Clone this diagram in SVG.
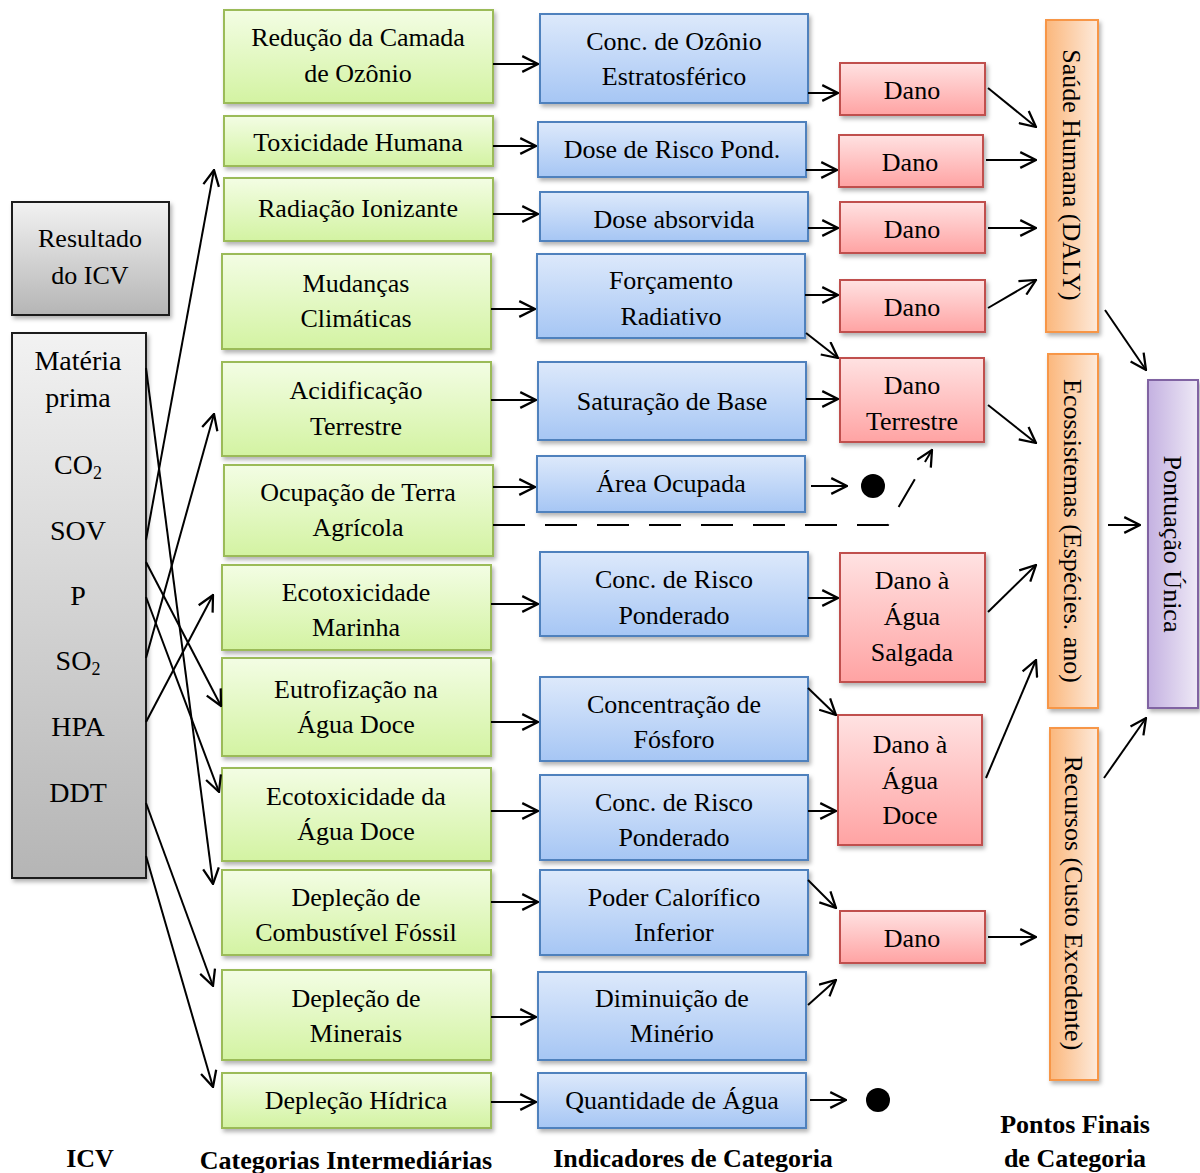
<svg xmlns="http://www.w3.org/2000/svg" width="1200" height="1173" viewBox="0 0 1200 1173">
  <defs>
    <linearGradient id="gGreen" x1="0" y1="0" x2="0" y2="1">
      <stop offset="0" stop-color="#f3fde4"/>
      <stop offset="1" stop-color="#d3f3a2"/>
    </linearGradient>
    <linearGradient id="gBlue" x1="0" y1="0" x2="0" y2="1">
      <stop offset="0" stop-color="#dde9fb"/>
      <stop offset="1" stop-color="#a6c6f4"/>
    </linearGradient>
    <linearGradient id="gRed" x1="0" y1="0" x2="0" y2="1">
      <stop offset="0" stop-color="#ffe2e2"/>
      <stop offset="1" stop-color="#ffa3a3"/>
    </linearGradient>
    <linearGradient id="gOrange" x1="0" y1="0" x2="1" y2="0">
      <stop offset="0" stop-color="#fbb77c"/>
      <stop offset="1" stop-color="#fdeadb"/>
    </linearGradient>
    <linearGradient id="gPurple" x1="0" y1="0" x2="1" y2="0">
      <stop offset="0" stop-color="#c4b1e1"/>
      <stop offset="1" stop-color="#eee9f6"/>
    </linearGradient>
    <linearGradient id="gGray" x1="0" y1="0" x2="0" y2="1">
      <stop offset="0" stop-color="#f2f2f2"/>
      <stop offset="1" stop-color="#b5b5b5"/>
    </linearGradient>
    <filter id="shadow" x="-20%" y="-20%" width="140%" height="140%">
      <feDropShadow dx="2" dy="3" stdDeviation="2" flood-color="#000" flood-opacity="0.3"/>
    </filter>
    <marker id="arrow" markerUnits="userSpaceOnUse" markerWidth="18" markerHeight="18" viewBox="0 0 16 16" refX="15" refY="8" orient="auto">
      <path d="M1,1 L15,8 L1,15" fill="none" stroke="#000" stroke-width="2"/>
    </marker>
  </defs>
  <style>
    text { font-family: "Liberation Serif", "Times New Roman", serif; font-size: 26px; fill: #000; text-anchor: middle; }
    .big { font-size: 28px; }
    .lbl { font-weight: bold; font-size: 26px; }
    .green { fill: url(#gGreen); stroke: #9bbb59; stroke-width: 2; filter: url(#shadow); }
    .blue { fill: url(#gBlue); stroke: #4f81bd; stroke-width: 2; filter: url(#shadow); }
    .red { fill: url(#gRed); stroke: #c0504d; stroke-width: 2; filter: url(#shadow); }
    .orange { fill: url(#gOrange); stroke: #f79646; stroke-width: 2; filter: url(#shadow); }
    .purple { fill: url(#gPurple); stroke: #8064a2; stroke-width: 2; filter: url(#shadow); }
    .gray { fill: url(#gGray); stroke: #1a1a1a; stroke-width: 2; filter: url(#shadow); }
    .conn line, .conn path { stroke: #000; stroke-width: 2; fill: none; marker-end: url(#arrow); }
    .conn .dash { stroke-dasharray: 32 20; }
  </style>

  <rect width="1200" height="1173" fill="#fff"/>

  <!-- Inventory column -->
  <g id="resultado-icv">
    <rect class="gray" x="12" y="202" width="157" height="113"/>
    <text x="90" y="247">Resultado</text>
    <text x="90" y="284">do ICV</text>
  </g>
  <g id="inventario">
    <rect class="gray" x="12" y="333" width="134" height="545"/>
    <text class="big" x="78" y="370">Matéria</text>
    <text class="big" x="78" y="407">prima</text>
    <text class="big" x="78" y="474">CO<tspan font-size="18" dy="5">2</tspan></text>
    <text class="big" x="78" y="540">SOV</text>
    <text class="big" x="78" y="605">P</text>
    <text class="big" x="78" y="670">SO<tspan font-size="18" dy="5">2</tspan></text>
    <text class="big" x="78" y="736">HPA</text>
    <text class="big" x="78" y="802">DDT</text>
  </g>

  <!-- Midpoint categories -->
  <g id="cat-ozonio"><rect class="green" x="224" y="10" width="269" height="93"/><text x="358" y="46">Redução da Camada</text><text x="358" y="82">de Ozônio</text></g>
  <g id="cat-toxicidade"><rect class="green" x="224" y="116" width="269" height="50"/><text x="358" y="151">Toxicidade Humana</text></g>
  <g id="cat-radiacao"><rect class="green" x="224" y="178" width="269" height="63"/><text x="358" y="217">Radiação Ionizante</text></g>
  <g id="cat-clima"><rect class="green" x="222" y="254" width="269" height="95"/><text x="356" y="292">Mudanças</text><text x="356" y="327">Climáticas</text></g>
  <g id="cat-acidificacao"><rect class="green" x="222" y="362" width="269" height="94"/><text x="356" y="399">Acidificação</text><text x="356" y="435">Terrestre</text></g>
  <g id="cat-ocupacao"><rect class="green" x="224" y="465" width="269" height="91"/><text x="358" y="501">Ocupação de Terra</text><text x="358" y="536">Agrícola</text></g>
  <g id="cat-ecotox-marinha"><rect class="green" x="222" y="565" width="269" height="85"/><text x="356" y="601">Ecotoxicidade</text><text x="356" y="636">Marinha</text></g>
  <g id="cat-eutrofizacao"><rect class="green" x="222" y="658" width="269" height="98"/><text x="356" y="698">Eutrofização na</text><text x="356" y="733">Água Doce</text></g>
  <g id="cat-ecotox-doce"><rect class="green" x="222" y="768" width="269" height="93"/><text x="356" y="805">Ecotoxicidade da</text><text x="356" y="840">Água Doce</text></g>
  <g id="cat-fossil"><rect class="green" x="222" y="870" width="269" height="85"/><text x="356" y="906">Depleção de</text><text x="356" y="941">Combustível Fóssil</text></g>
  <g id="cat-minerais"><rect class="green" x="222" y="970" width="269" height="90"/><text x="356" y="1007">Depleção de</text><text x="356" y="1042">Minerais</text></g>
  <g id="cat-hidrica"><rect class="green" x="222" y="1073" width="269" height="55"/><text x="356" y="1109">Depleção Hídrica</text></g>

  <!-- Category indicators -->
  <g id="ind-ozonio"><rect class="blue" x="540" y="14" width="268" height="89"/><text x="674" y="50">Conc. de Ozônio</text><text x="674" y="85">Estratosférico</text></g>
  <g id="ind-dose-risco"><rect class="blue" x="538" y="122" width="268" height="55"/><text x="672" y="158">Dose de Risco Pond.</text></g>
  <g id="ind-dose-absorvida"><rect class="blue" x="540" y="192" width="268" height="49"/><text x="674" y="228">Dose absorvida</text></g>
  <g id="ind-forcamento"><rect class="blue" x="537" y="254" width="268" height="84"/><text x="671" y="289">Forçamento</text><text x="671" y="325">Radiativo</text></g>
  <g id="ind-saturacao"><rect class="blue" x="538" y="362" width="268" height="78"/><text x="672" y="410">Saturação de Base</text></g>
  <g id="ind-area"><rect class="blue" x="537" y="456" width="268" height="56"/><text x="671" y="492">Área Ocupada</text></g>
  <g id="ind-risco-marinho"><rect class="blue" x="540" y="552" width="268" height="84"/><text x="674" y="588">Conc. de Risco</text><text x="674" y="624">Ponderado</text></g>
  <g id="ind-fosforo"><rect class="blue" x="540" y="677" width="268" height="84"/><text x="674" y="713">Concentração de</text><text x="674" y="748">Fósforo</text></g>
  <g id="ind-risco-doce"><rect class="blue" x="540" y="775" width="268" height="85"/><text x="674" y="811">Conc. de Risco</text><text x="674" y="846">Ponderado</text></g>
  <g id="ind-calorifico"><rect class="blue" x="540" y="870" width="268" height="85"/><text x="674" y="906">Poder Calorífico</text><text x="674" y="941">Inferior</text></g>
  <g id="ind-minerio"><rect class="blue" x="538" y="972" width="268" height="88"/><text x="672" y="1007">Diminuição de</text><text x="672" y="1042">Minério</text></g>
  <g id="ind-agua"><rect class="blue" x="538" y="1073" width="268" height="55"/><text x="672" y="1109">Quantidade de Água</text></g>

  <!-- Damage nodes -->
  <g id="dano-1"><rect class="red" x="840" y="63" width="145" height="52"/><text x="912" y="99">Dano</text></g>
  <g id="dano-2"><rect class="red" x="839" y="135" width="144" height="52"/><text x="910" y="171">Dano</text></g>
  <g id="dano-3"><rect class="red" x="840" y="202" width="145" height="51"/><text x="912" y="238">Dano</text></g>
  <g id="dano-4"><rect class="red" x="840" y="280" width="145" height="52"/><text x="912" y="316">Dano</text></g>
  <g id="dano-terrestre"><rect class="red" x="840" y="358" width="144" height="84"/><text x="912" y="394">Dano</text><text x="912" y="430">Terrestre</text></g>
  <g id="dano-salgada"><rect class="red" x="840" y="553" width="145" height="129"/><text x="912" y="589">Dano à</text><text x="912" y="625">Água</text><text x="912" y="661">Salgada</text></g>
  <g id="dano-doce"><rect class="red" x="838" y="715" width="144" height="130"/><text x="910" y="753">Dano à</text><text x="910" y="789">Água</text><text x="910" y="824">Doce</text></g>
  <g id="dano-recursos"><rect class="red" x="840" y="911" width="145" height="52"/><text x="912" y="947">Dano</text></g>

  <!-- Endpoints -->
  <g id="saude-humana"><rect class="orange" x="1046" y="20" width="52" height="312"/><text transform="translate(1072,175) rotate(90)" x="0" y="9">Saúde Humana (DALY)</text></g>
  <g id="ecossistemas"><rect class="orange" x="1048" y="354" width="50" height="354"/><text transform="translate(1073,531) rotate(90)" x="0" y="9">Ecossistemas (Espécies. ano)</text></g>
  <g id="recursos"><rect class="orange" x="1050" y="728" width="48" height="352"/><text transform="translate(1074,903) rotate(90)" x="0" y="9">Recursos (Custo Excedente)</text></g>
  <g id="pontuacao-unica"><rect class="purple" x="1148" y="380" width="50" height="328"/><text transform="translate(1173,544) rotate(90)" x="0" y="9">Pontuação Única</text></g>

  <!-- Terminal markers -->
  <g id="fim-area"><circle cx="873" cy="486" r="12" fill="#000"/></g>
  <g id="fim-agua"><circle cx="878" cy="1100" r="12" fill="#000"/></g>

  <!-- Connectors -->
  <g id="connectors" class="conn">
    <!-- inventory to midpoint categories -->
    <line x1="146" y1="368" x2="213" y2="884"/>
    <line x1="146" y1="540" x2="214" y2="170"/>
    <line x1="146" y1="562" x2="221" y2="706"/>
    <line x1="146" y1="597" x2="219" y2="792"/>
    <line x1="146" y1="658" x2="214" y2="414"/>
    <line x1="146" y1="722" x2="213" y2="595"/>
    <line x1="146" y1="803" x2="213" y2="986"/>
    <line x1="146" y1="856" x2="213" y2="1087"/>
    <!-- midpoint categories to indicators -->
    <line x1="493" y1="64" x2="538" y2="64"/>
    <line x1="493" y1="146" x2="536" y2="146"/>
    <line x1="493" y1="214" x2="538" y2="214"/>
    <line x1="491" y1="309" x2="535" y2="309"/>
    <line x1="491" y1="400" x2="536" y2="400"/>
    <line x1="493" y1="487" x2="535" y2="487"/>
    <line x1="491" y1="604" x2="538" y2="604"/>
    <line x1="491" y1="722" x2="538" y2="722"/>
    <line x1="491" y1="811" x2="538" y2="811"/>
    <line x1="491" y1="902" x2="538" y2="902"/>
    <line x1="491" y1="1017" x2="536" y2="1017"/>
    <line x1="491" y1="1102" x2="536" y2="1102"/>
    <!-- indicators to damage -->
    <line x1="808" y1="93" x2="838" y2="93"/>
    <line x1="806" y1="170" x2="837" y2="170"/>
    <line x1="808" y1="228" x2="838" y2="228"/>
    <line x1="805" y1="295" x2="838" y2="295"/>
    <line x1="806" y1="333" x2="838" y2="358"/>
    <line x1="806" y1="399" x2="838" y2="399"/>
    <line x1="811" y1="486" x2="847" y2="486"/>
    <path class="dash" d="M493,525 L888,525 L932,450"/>
    <line x1="808" y1="598" x2="838" y2="598"/>
    <line x1="808" y1="688" x2="836" y2="715"/>
    <line x1="808" y1="811" x2="836" y2="811"/>
    <line x1="808" y1="880" x2="836" y2="908"/>
    <line x1="808" y1="1005" x2="836" y2="980"/>
    <line x1="810" y1="1100" x2="846" y2="1100"/>
    <!-- damage to endpoints -->
    <line x1="988" y1="88" x2="1036" y2="127"/>
    <line x1="986" y1="160" x2="1036" y2="160"/>
    <line x1="988" y1="228" x2="1036" y2="228"/>
    <line x1="988" y1="308" x2="1036" y2="280"/>
    <line x1="988" y1="405" x2="1036" y2="443"/>
    <line x1="988" y1="612" x2="1036" y2="565"/>
    <line x1="986" y1="778" x2="1036" y2="660"/>
    <line x1="988" y1="937" x2="1036" y2="937"/>
    <!-- endpoints to single score -->
    <line x1="1105" y1="310" x2="1146" y2="370"/>
    <line x1="1108" y1="525" x2="1140" y2="525"/>
    <line x1="1104" y1="778" x2="1146" y2="718"/>
  </g>

  <!-- Column titles -->
  <g id="titulos">
    <text class="lbl" x="90" y="1167">ICV</text>
    <text class="lbl" x="346" y="1169">Categorias Intermediárias</text>
    <text class="lbl" x="693" y="1167">Indicadores de Categoria</text>
    <text class="lbl" x="1075" y="1133">Pontos Finais</text>
    <text class="lbl" x="1075" y="1167">de Categoria</text>
  </g>
</svg>
